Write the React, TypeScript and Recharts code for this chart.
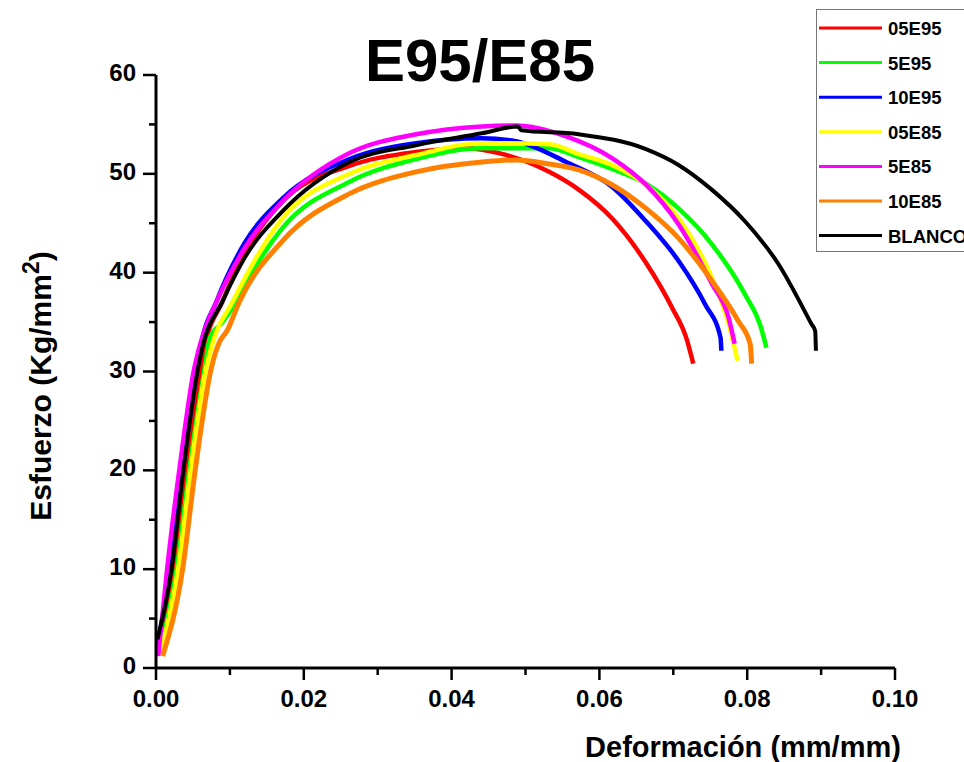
import { LineChart, Line, XAxis, YAxis, Legend, Customized } from 'recharts'

const FONT = '"Liberation Sans", Arial, sans-serif'

// strain (mm/mm) and stress (Kg/mm2)
const strain05E95 = [0.0004, 0.0026, 0.0042, 0.0062, 0.0066, 0.009, 0.012, 0.0171, 0.0262, 0.0352, 0.042, 0.0464, 0.0532, 0.0572, 0.0617, 0.0663, 0.0698, 0.0718, 0.0727]
const stress05E95 = [1.9, 10, 20, 30.4, 32.4, 37.1, 42.0, 47.2, 50.8, 52.2, 52.6, 52.1, 50.2, 48.4, 45.5, 41.0, 36.5, 33.3, 30.8]

const strain5E95 = [0.0005, 0.0028, 0.0045, 0.0066, 0.0073, 0.009, 0.0109, 0.013, 0.0171, 0.0262, 0.0352, 0.0441, 0.0532, 0.0572, 0.0617, 0.0663, 0.0707, 0.0752, 0.0797, 0.0818, 0.0826]
const stress5E95 = [1.6, 10, 20, 30.4, 33.4, 35.0, 37.1, 40.0, 44.5, 49.2, 51.5, 52.6, 52.6, 51.7, 50.5, 49.0, 46.5, 42.9, 37.8, 34.6, 32.4]

const strain10E95 = [0.0002, 0.0019, 0.0036, 0.0056, 0.006, 0.0082, 0.012, 0.0171, 0.0262, 0.0352, 0.0441, 0.0487, 0.0555, 0.0617, 0.0663, 0.0707, 0.0743, 0.0764, 0.0765]
const stress10E95 = [2.2, 10, 20, 30.4, 32.3, 37.1, 43.0, 47.5, 51.5, 53.1, 53.6, 53.3, 51.2, 48.7, 45.2, 41.2, 36.8, 33.4, 32.1]

const strain05E85 = [0.0006, 0.003, 0.0047, 0.0068, 0.0075, 0.0104, 0.0171, 0.0262, 0.0352, 0.0441, 0.0532, 0.0572, 0.0617, 0.0663, 0.0707, 0.0752, 0.0775, 0.0787]
const stress05E85 = [1.5, 10, 20, 30.4, 32.5, 37.1, 45.5, 50.0, 51.9, 53.1, 53.0, 52.0, 50.9, 48.9, 45.5, 39.5, 34.8, 31.1]

const strain5E85 = [0.0003, 0.0015, 0.0032, 0.0052, 0.0057, 0.0065, 0.0082, 0.012, 0.0171, 0.0262, 0.0352, 0.0441, 0.0487, 0.0555, 0.0617, 0.0663, 0.0707, 0.0752, 0.0775, 0.0783]
const stress5E85 = [1.2, 10, 20.3, 30.4, 32.0, 34.0, 37.1, 42.5, 47.2, 52.1, 54.0, 54.8, 54.9, 53.8, 51.6, 48.9, 44.9, 38.9, 35.4, 32.8]

const strain10E85 = [0.0009, 0.0036, 0.0053, 0.0075, 0.0086, 0.0096, 0.0113, 0.0171, 0.0262, 0.0352, 0.0441, 0.0487, 0.0532, 0.0572, 0.0617, 0.0663, 0.0707, 0.0752, 0.0788, 0.0804, 0.0806]
const stress10E85 = [1.2, 10, 20, 30.4, 33.0, 34.1, 37.1, 43.2, 48.0, 50.2, 51.2, 51.4, 51.0, 50.4, 48.9, 46.5, 43.5, 39.2, 35.1, 32.8, 30.8]

const strainBlanco = [0.0002, 0.0021, 0.0037, 0.0057, 0.0062, 0.009, 0.012, 0.0171, 0.0262, 0.0352, 0.0441, 0.049, 0.0494, 0.0572, 0.0663, 0.0707, 0.0752, 0.0797, 0.0842, 0.0887, 0.0892, 0.0893]
const stressBlanco = [2.9, 10, 20, 30.4, 32.2, 37.1, 41.5, 46.2, 51.2, 52.9, 54.1, 54.8, 54.4, 54.0, 52.5, 50.9, 48.4, 45.2, 40.9, 34.8, 34.1, 32.1]

const xTicks = [0, 0.01, 0.02, 0.03, 0.04, 0.05, 0.06, 0.07, 0.08, 0.09, 0.1]
const yTicks = [0, 5, 10, 15, 20, 25, 30, 35, 40, 45, 50, 55, 60]

const toPoints = (xs: number[], ys: number[]) => xs.map((x, i) => ({ x, y: ys[i] }))

const series = [
  { name: '05E95', color: '#ff0000', width: 4.5, data: toPoints(strain05E95, stress05E95) },
  { name: '5E95', color: '#00ff00', width: 4.5, data: toPoints(strain5E95, stress5E95) },
  { name: '10E95', color: '#0000ff', width: 4.5, data: toPoints(strain10E95, stress10E95) },
  { name: '05E85', color: '#ffff00', width: 4.5, data: toPoints(strain05E85, stress05E85) },
  { name: '5E85', color: '#ff00ff', width: 4.5, data: toPoints(strain5E85, stress5E85) },
  { name: '10E85', color: '#ff8000', width: 5, data: toPoints(strain10E85, stress10E85) },
  { name: 'BLANCO', color: '#000000', width: 4, data: toPoints(strainBlanco, stressBlanco) },
]

function YTick(props: any) {
  const { x, y, payload } = props
  const major = payload.value % 10 === 0
  return (
    <g>
      <line x1={x} x2={x - (major ? 13 : 7)} y1={y} y2={y} stroke="#000" strokeWidth={2.5} />
      {major && (
        <text x={x - 20} y={y} dy={6} textAnchor="end" fontFamily={FONT} fontWeight="bold" fontSize={24} fill="#000">
          {payload.value}
        </text>
      )}
    </g>
  )
}

function XTick(props: any) {
  const { x, y, payload } = props
  const major = Math.round(payload.value * 100) % 2 === 0
  return (
    <g>
      <line x1={x} x2={x} y1={y} y2={y + (major ? 12 : 7)} stroke="#000" strokeWidth={2.5} />
      {major && (
        <text x={x} y={y} dy={39} textAnchor="middle" fontFamily={FONT} fontWeight="bold" fontSize={24} fill="#000">
          {payload.value.toFixed(2)}
        </text>
      )}
    </g>
  )
}

function LegendBox() {
  return (
    <svg width={160} height={244} style={{ display: 'block', overflow: 'visible' }}>
      <rect x={0.5} y={0.5} width={170} height={242} fill="#fff" stroke="#777" strokeWidth={1} />
      {series.map((s, i) => (
        <g key={s.name}>
          <line x1={3} x2={66} y1={19 + i * 34.6} y2={19 + i * 34.6} stroke={s.color} strokeWidth={3} />
          <text x={72} y={19 + i * 34.6} dy={7} fontFamily={FONT} fontWeight="bold" fontSize={18.5} fill="#000">
            {s.name}
          </text>
        </g>
      ))}
    </svg>
  )
}

function Labels() {
  return (
    <g>
      <text x={480} y={81} textAnchor="middle" fontFamily={FONT} fontWeight="bold" fontSize={60} fill="#000">
        E95/E85
      </text>
      <text x={743} y={757} textAnchor="middle" fontFamily={FONT} fontWeight="bold" fontSize={29} fill="#000">
        Deformación (mm/mm)
      </text>
      <text transform="translate(51, 386) rotate(-90)" textAnchor="middle" fontFamily={FONT} fontWeight="bold" fontSize={30} fill="#000">
        Esfuerzo (Kg/mm
        <tspan dy={-12} fontSize={23}>2</tspan>
        <tspan dy={12}>)</tspan>
      </text>
    </g>
  )
}

export default function App() {
  return (
    <div style={{ position: 'absolute', left: 0, top: 0, width: 964, height: 762, background: '#fff', overflow: 'hidden' }}>
      <LineChart width={964} height={762} margin={{ top: 75, right: 69, bottom: 34, left: 56 }}>
        <XAxis
          type="number"
          dataKey="x"
          domain={[0, 0.1]}
          ticks={xTicks}
          interval={0}
          tickSize={0}
          tickMargin={0}
          tickLine={false}
          tick={<XTick />}
          axisLine={{ stroke: '#000', strokeWidth: 3 }}
          height={60}
          allowDuplicatedCategory={false}
        />
        <YAxis
          type="number"
          dataKey="y"
          domain={[0, 60]}
          ticks={yTicks}
          interval={0}
          tickSize={0}
          tickMargin={0}
          tickLine={false}
          tick={<YTick />}
          axisLine={{ stroke: '#000', strokeWidth: 3 }}
          width={100}
        />
        {series.map((s) => (
          <Line
            key={s.name}
            data={s.data}
            dataKey="y"
            name={s.name}
            type="monotone"
            stroke={s.color}
            strokeWidth={s.width}
            dot={false}
            isAnimationActive={false}
          />
        ))}
        <Legend
          layout="vertical"
          align="center"
          verticalAlign="middle"
          content={() => <LegendBox />}
          wrapperStyle={{ position: 'absolute', left: 816, top: 9, width: 160, height: 244, margin: 0 }}
        />
        <Customized component={Labels} />
      </LineChart>
    </div>
  )
}
